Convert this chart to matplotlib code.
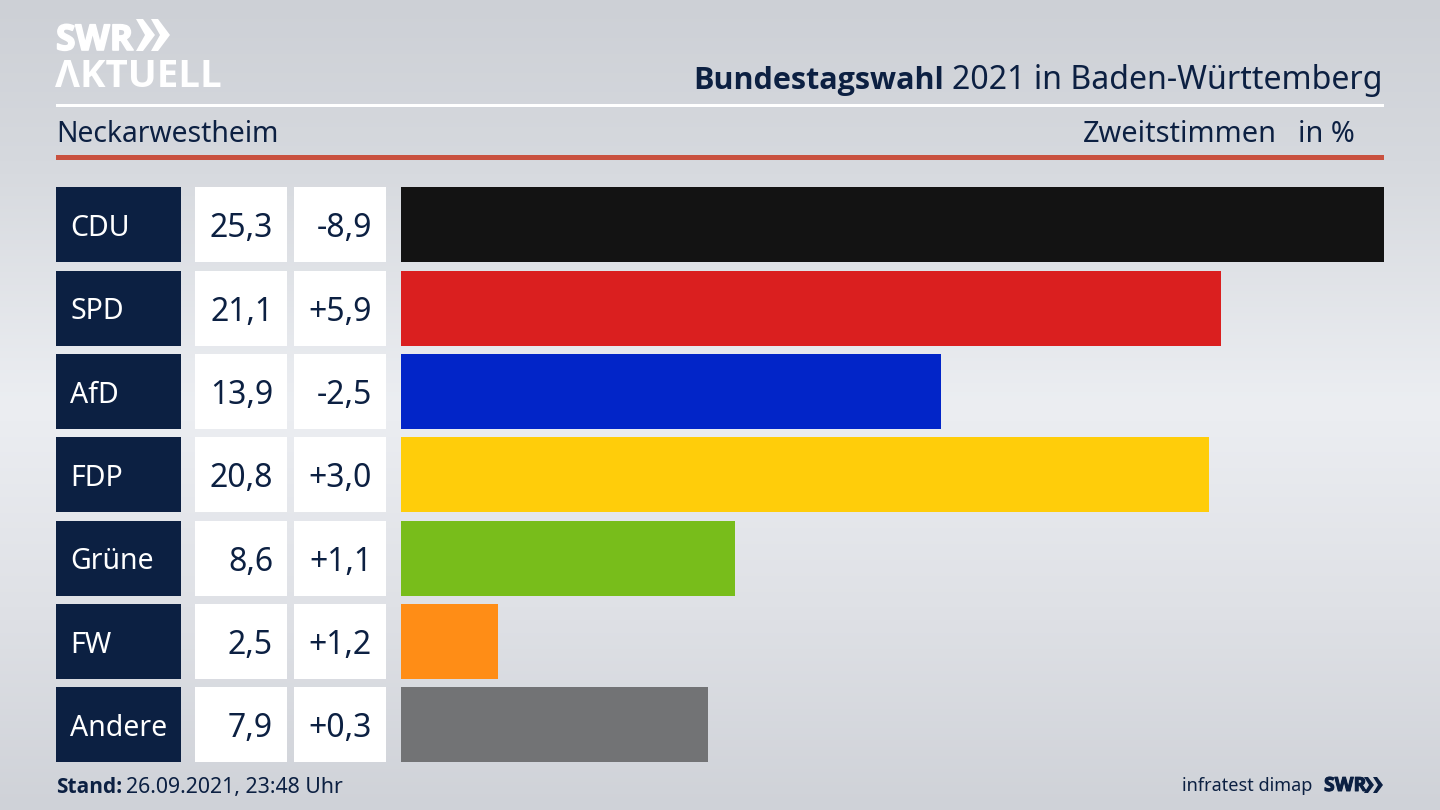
import matplotlib
matplotlib.use("Agg")
import matplotlib.pyplot as plt
import matplotlib.patheffects as pe
from matplotlib.colors import LinearSegmentedColormap
from matplotlib.patches import Rectangle, Polygon
import numpy as np

parties = ["CDU", "SPD", "AfD", "FDP", "Grüne", "FW", "Andere"]
shares = [25.3, 21.1, 13.9, 20.8, 8.6, 2.5, 7.9]
changes = ["-8,9", "+5,9", "-2,5", "+3,0", "+1,1", "+1,2", "+0,3"]
colors = ["#131313", "#da1f1f", "#0225c8", "#ffcd0a", "#78bd1b", "#ff8d16", "#727375"]

NAVY = "#0c2042"
plt.rcParams["font.family"] = ["Noto Sans", "DejaVu Sans"]

fig = plt.figure(figsize=(14.4, 8.1), dpi=100)

# whole picture in pixel coordinates, y pointing down
bg = fig.add_axes([0, 0, 1, 1])
bg.set_xlim(0, 1440)
bg.set_ylim(810, 0)
bg.axis("off")

cmap = LinearSegmentedColormap.from_list(
    "bg", [(0, "#cdd0d6"), (0.2, "#d6d9de"), (0.5, "#eceef2"), (0.75, "#dfe1e6"), (1, "#cfd2d8")]
)
grad = np.linspace(0, 1, 256).reshape(-1, 1)
bg.imshow(grad, cmap=cmap, extent=[0, 1440, 810, 0], aspect="auto", zorder=0)

# logo, stroke makes it as heavy as the original
heavy = [pe.withStroke(linewidth=1.2, foreground="white")]
bg.text(56, 50, "SWR", color="white", fontsize=25.5, fontweight="bold", family="Open Sans", va="baseline",
        zorder=3, path_effects=heavy)
for x0 in (136, 151):
    bg.add_patch(Polygon([(x0, 19), (x0 + 7, 19), (x0 + 19, 35), (x0 + 7, 51), (x0, 51), (x0 + 9, 35)],
                         color="white", lw=0, zorder=3))
bg.text(55, 87, "ΛKTUELL", color="white", fontsize=27.6, fontweight="bold", family="Open Sans", va="baseline", zorder=3)

# header
bg.text(1383, 89, "2021 in Baden-Württemberg", color=NAVY, fontsize=23.1, ha="right", va="baseline", zorder=3)
bg.text(944, 89, "Bundestagswahl", color=NAVY, fontsize=22, fontweight="bold", family="Open Sans", ha="right",
        va="baseline", zorder=3)

bg.add_patch(Rectangle((56, 104), 1328, 3, color="white", lw=0, zorder=2))
bg.text(56, 142, "Neckarwestheim", color=NAVY, fontsize=20.4, va="baseline", zorder=3)
bg.text(1277, 142, "Zweitstimmen", color=NAVY, fontsize=20.8, ha="right", va="baseline", zorder=3)
bg.text(1355, 142, "in %", color=NAVY, fontsize=20.8, ha="right", va="baseline", zorder=3)
bg.add_patch(Rectangle((56, 155), 1328, 5, color="#c9513f", lw=0, zorder=2))

# rows
top = 187.4
pitch = 83.33
row_h = 75
for i, party in enumerate(parties):
    y = top + i * pitch
    ym = y + row_h / 2
    bg.add_patch(Rectangle((56, y), 125, row_h, color=NAVY, lw=0, zorder=2))
    bg.add_patch(Rectangle((195, y), 92, row_h, color="white", lw=0, zorder=2))
    bg.add_patch(Rectangle((294, y), 92, row_h, color="white", lw=0, zorder=2))
    bg.text(70, ym, party, color="white", fontsize=20.5, va="center_baseline", zorder=3)
    bg.text(273, ym, f"{shares[i]:.1f}".replace(".", ","), color=NAVY, fontsize=23, ha="right",
            va="center_baseline", zorder=3)
    bg.text(372, ym, changes[i], color=NAVY, fontsize=23, ha="right", va="center_baseline", zorder=3)

# bars
ax = fig.add_axes([400.6 / 1440, 1 - 762.4 / 810, 983.4 / 1440, 575 / 810])
ax.patch.set_alpha(0)
ax.barh(range(len(parties)), shares, height=row_h / pitch, color=colors, lw=0)
ax.set_xlim(0, max(shares))
ax.set_ylim(len(parties) - 0.5 - (1 - row_h / pitch) / 2, -0.5 + (1 - row_h / pitch) / 2)
ax.axis("off")

# footer
bg.text(56, 793, "Stand:", color=NAVY, fontsize=15, fontweight="bold", family="Open Sans", va="baseline", zorder=3)
bg.text(126, 793, "26.09.2021, 23:48 Uhr", color=NAVY, fontsize=15.3, va="baseline", zorder=3)
bg.text(1312, 791, "infratest dimap", color=NAVY, fontsize=13, ha="right", va="baseline", zorder=3)
bg.text(1324, 791, "SWR", color=NAVY, fontsize=14, fontweight="bold", family="Open Sans", va="baseline", zorder=3,
        path_effects=[pe.withStroke(linewidth=0.7, foreground=NAVY)])
for x0 in (1364, 1373):
    bg.add_patch(Polygon([(x0, 777), (x0 + 4, 777), (x0 + 10, 785), (x0 + 4, 793), (x0, 793), (x0 + 5, 785)],
                         color=NAVY, lw=0, zorder=3))

fig.savefig("out.png", dpi=100)
